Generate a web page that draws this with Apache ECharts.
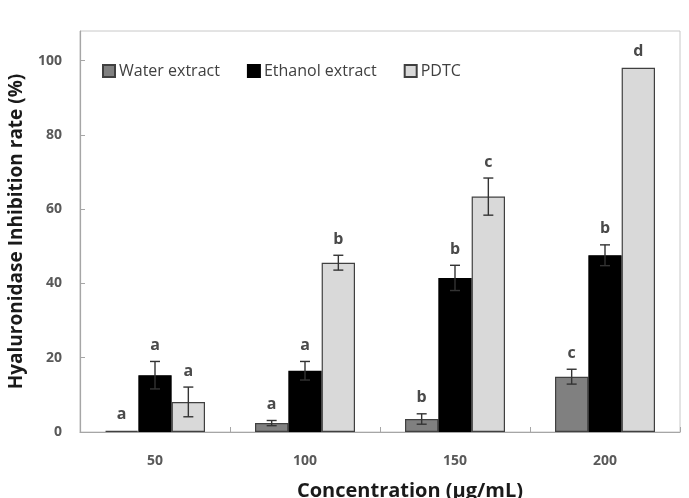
<!DOCTYPE html>
<html>
<head>
<meta charset="utf-8">
<script src="https://cdn.jsdelivr.net/npm/echarts@6/dist/echarts.min.js"></script>
<style>html,body{margin:0;padding:0;background:#fff;}#c{width:689px;height:498px;}</style>
</head>
<body>
<div id="c"></div>
<script>
var categories = ['50', '100', '150', '200'];
var seriesNames = ['Water extract', 'Ethanol extract', 'PDTC'];
var waterValues = [0.3, 2.4, 3.5, 14.9];
var ethanolValues = [15.3, 16.5, 41.5, 47.6];
var pdtcValues = [8.1, 45.6, 63.4, 98.1];
var waterErrors = [0, 0.7, 1.4, 2.0];
var ethanolErrors = [3.7, 2.5, 3.4, 2.8];
var pdtcErrors = [4.0, 2.0, 5.0, 0];
var waterLetters = ['a', 'a', 'b', 'c'];
var ethanolLetters = ['a', 'a', 'b', 'b'];
var pdtcLetters = ['a', 'b', 'c', 'd'];
var yTicks = [0, 20, 40, 60, 80, 100];

var values = [waterValues, ethanolValues, pdtcValues];
var errors = [waterErrors, ethanolErrors, pdtcErrors];
var letters = [waterLetters, ethanolLetters, pdtcLetters];
var fills = ['#808080', '#000000', '#d9d9d9'];
var borders = ['#404040', '#000000', '#404040'];
var catGap = 1 / 3;

var chart = echarts.init(document.getElementById('c'), null, {renderer: 'canvas'});
var series = [];
values.forEach(function (vals, s) {
  series.push({
    name: seriesNames[s],
    type: 'bar',
    data: vals,
    barGap: '0%',
    barCategoryGap: (catGap * 100) + '%',
    itemStyle: {color: fills[s], borderColor: borders[s], borderWidth: 1.2},
    z: 2
  });
});
values.forEach(function (vals, s) {
  var data = vals.map(function (v, i) { return [i, v, errors[s][i]]; });
  series.push({
    type: 'custom',
    name: 'err' + s,
    z: 5,
    silent: true,
    data: data,
    renderItem: function (params, api) {
      var i = api.value(0), v = api.value(1), e = api.value(2);
      var band = api.size([1, 0])[0];
      var bw = band * (1 - catGap) / 3;
      var center = api.coord([i, v]);
      var x = center[0] + (s - 1) * bw;
      var top = api.coord([i, v + e]);
      var bot = api.coord([i, Math.max(v - e, 0)]);
      var children = [];
      if (e > 0) {
        var st = {stroke: '#333', lineWidth: 1.4};
        children.push({type: 'line', shape: {x1: x, y1: top[1], x2: x, y2: bot[1]}, style: st});
        children.push({type: 'line', shape: {x1: x - 5, y1: top[1], x2: x + 5, y2: top[1]}, style: st});
        children.push({type: 'line', shape: {x1: x - 5, y1: bot[1], x2: x + 5, y2: bot[1]}, style: st});
      }
      children.push({
        type: 'text',
        style: {
          text: letters[s][i], x: x, y: top[1] - 8,
          textAlign: 'center', textVerticalAlign: 'bottom',
          fill: '#4a4a4a', font: 'bold 16px "Open Sans", sans-serif'
        }
      });
      return {type: 'group', children: children};
    }
  });
});

chart.setOption({
  animation: false,
  backgroundColor: '#ffffff',
  grid: {left: 80, right: 9, top: 31, bottom: 66, show: true, borderColor: '#c8c8c8', borderWidth: 1, containLabel: false, outerBoundsMode: 'none'},
  legend: {
    data: seriesNames,
    left: 97, top: 58,
    itemWidth: 12, itemHeight: 12, itemGap: 27,
    icon: 'rect',
    textStyle: {fontFamily: '"Open Sans", sans-serif', fontSize: 16, color: '#404040', padding: [0, 0, 0, -1]}
  },
  xAxis: {
    type: 'category',
    data: categories,
    axisLine: {lineStyle: {color: '#a6a6a6', width: 1.2}},
    axisTick: {show: true, inside: true, length: 5, lineStyle: {color: '#a6a6a6'}},
    axisLabel: {color: '#595959', fontWeight: 'bold', fontSize: 14, margin: 22, fontFamily: '"Open Sans", sans-serif'},
    name: 'Concentration (µg/mL)',
    nameLocation: 'middle',
    nameGap: 49,
    nameTextStyle: {fontWeight: 'bold', fontSize: 20, color: '#1a1a1a', fontFamily: '"Open Sans", sans-serif', padding: [0, 0, 0, 60]}
  },
  yAxis: {
    type: 'value',
    min: 0, max: 108,
    splitLine: {show: false},
    axisLine: {show: true, lineStyle: {color: '#a6a6a6', width: 1.2}},
    axisTick: {show: true, inside: true, length: 5, customValues: yTicks, lineStyle: {color: '#a6a6a6'}},
    axisLabel: {color: '#595959', fontWeight: 'bold', fontSize: 14, margin: 18, customValues: yTicks, fontFamily: '"Open Sans", sans-serif'},
    name: 'Hyaluronidase Inhibition rate (%)',
    nameLocation: 'middle',
    nameGap: 54,
    nameTextStyle: {fontWeight: 'bold', fontSize: 19, color: '#1a1a1a', fontFamily: '"Open Sans", sans-serif'}
  },
  series: series
});
</script>
</body>
</html>
